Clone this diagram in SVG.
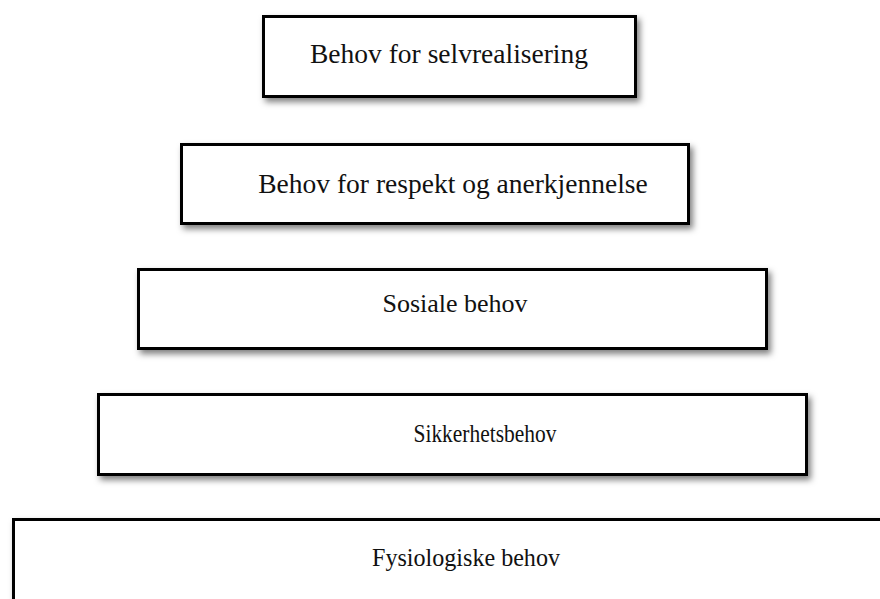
<svg xmlns="http://www.w3.org/2000/svg" width="880" height="599" viewBox="0 0 880 599">
  <defs>
    <filter id="sh" x="-5%" y="-20%" width="115%" height="150%">
      <feDropShadow dx="3" dy="4" stdDeviation="3" flood-color="#000" flood-opacity="0.5"/>
    </filter>
    <style>
      .box { fill: #fff; stroke: #000; stroke-width: 3; filter: url(#sh); }
      .lbl { font-family: "Liberation Serif", "Times New Roman", serif; font-size: 26px; fill: #111; text-anchor: middle; }
      .big { font-size: 27.5px; }
    </style>
  </defs>
  <rect width="880" height="599" fill="#fff"/>
  <g id="connectors"/>
  <g id="n1">
    <rect class="box" x="263.5" y="16.5" width="372" height="80"/>
    <text class="lbl big" x="449" y="63">Behov for selvrealisering</text>
  </g>
  <g id="n2">
    <rect class="box" x="181.5" y="144.5" width="507" height="79"/>
    <text class="lbl big" x="453" y="193">Behov for respekt og anerkjennelse</text>
  </g>
  <g id="n3">
    <rect class="box" x="138.5" y="269.5" width="628" height="79"/>
    <text class="lbl" x="455" y="312">Sosiale behov</text>
  </g>
  <g id="n4">
    <rect class="box" x="98.5" y="394.5" width="708" height="80"/>
    <text class="lbl" x="485" y="442" textLength="143" lengthAdjust="spacingAndGlyphs">Sikkerhetsbehov</text>
  </g>
  <g id="n5">
    <rect class="box" x="13.5" y="519.5" width="880" height="100"/>
    <text class="lbl" x="466" y="566" textLength="188" lengthAdjust="spacingAndGlyphs">Fysiologiske behov</text>
  </g>
</svg>
